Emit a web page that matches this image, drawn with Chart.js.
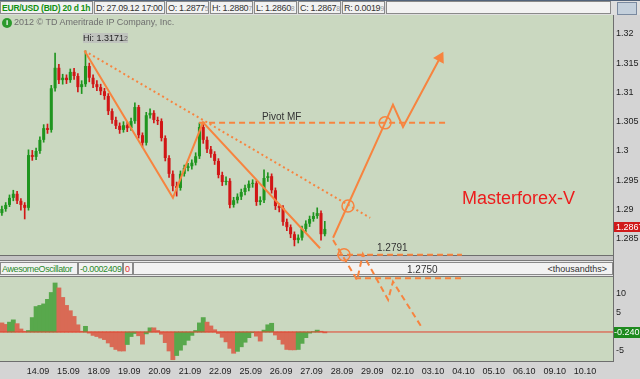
<!DOCTYPE html>
<html lang="en">
<head>
<meta charset="UTF-8">
<title>EUR/USD (BID) 20 d 1h</title>
<script src="https://cdn.jsdelivr.net/npm/chart.js"></script>
<style>
  body { margin: 0; background: #d4d4d4; font-family: "Liberation Sans", Arial, sans-serif; }
  #wrap { position: relative; width: 640px; height: 379px; overflow: hidden; background: #d4d4d4; }
  canvas { position: absolute; left: 0; top: 0; }
  #osc { z-index: 1; }
  #main { z-index: 3; }
  .abs { position: absolute; white-space: nowrap; }
  .box { position: absolute; top: 1px; height: 13px; line-height: 12px; border: 1px solid #8a8a8a;
         background: #f2f2f2; font-size: 9px; color: #333; padding: 0 1px; box-sizing: border-box;
         overflow: hidden; white-space: nowrap; letter-spacing: -0.3px; }
  .box small { font-size: 7px; color: #999; }
  .lbl { position: absolute; z-index: 4; white-space: nowrap; font-size: 10px; color: #333; }
</style>
</head>
<body>
<div id="wrap">
  <!-- header bar -->
  <div class="abs" style="left:0;top:0;width:640px;height:15px;background:#dedede;border-top:1px solid #51627a;box-sizing:border-box;z-index:2"></div>
  <div id="header"></div>
  <div class="abs" style="left:617px;top:2px;width:18px;height:11px;border:1px solid #7a8aa0;background:#c4d0dc;z-index:2"></div>

  <!-- oscillator header band -->
  <div class="abs" style="left:0;top:255px;width:613px;height:22px;background:#e8e8e8;z-index:2"></div>
  <div class="abs" style="left:0;top:255px;width:613px;height:1px;background:#6e6e6e;z-index:2"></div>
  <div class="abs" style="left:0;top:256px;width:613px;height:4px;background:#c4c4c4;z-index:2"></div>
  <div class="abs" style="left:0;top:260px;width:613px;height:1px;background:#7a7a7a;z-index:2"></div>
  <div class="abs" style="left:0;top:276px;width:613px;height:1px;background:#7a7a7a;z-index:2"></div>
  <div class="box" style="left:0;top:262px;width:78px;color:#2b8a2b;z-index:2;letter-spacing:-0.4px">AwesomeOscillator</div>
  <div class="box" style="left:78px;top:262px;width:45px;color:#2b8a2b;z-index:2;letter-spacing:-0.4px">-0.0002409</div>
  <div class="box" style="left:123px;top:262px;width:10px;color:#e03030;z-index:2">0</div>
  <div class="box" style="left:133px;top:262px;width:480px;z-index:2;text-align:right;padding-right:5px;color:#333;letter-spacing:0">&lt;thousandths&gt;</div>

  <!-- frame lines -->
  <div class="abs" style="left:613px;top:15px;width:1px;height:347px;background:#6e6e6e;z-index:4"></div>
  <div class="abs" style="left:0;top:361px;width:614px;height:1px;background:#6e6e6e;z-index:4"></div>

  <canvas id="osc" width="640" height="379"></canvas>
  <canvas id="main" width="640" height="379"></canvas>

  <!-- texts over the plot -->
  <div class="lbl" style="left:2px;top:18px;width:10px;height:10px;border-radius:50%;background:#2c9a2c;color:#fff;font-size:8px;line-height:10px;text-align:center;font-weight:bold">i</div>
  <div class="lbl" style="left:14px;top:17px;font-size:9px;color:#6e6e6e">2012 © TD Ameritrade IP Company, Inc.</div>
  <div class="lbl" style="left:83px;top:33px;width:45px;height:10px;line-height:10px;background:#c0c4be;font-size:9px;color:#222;text-align:center">Hi: 1.3171<small style="font-size:7px;color:#666">2</small></div>
  <div class="lbl" style="left:262px;top:111px">Pivot MF</div>
  <div class="lbl" style="left:377px;top:242px">1.2791</div>
  <div class="lbl" style="left:407px;top:264px">1.2750</div>
  <div class="lbl" style="left:462px;top:188px;font-size:18px;color:#ec1c1c">Masterforex-V</div>
  <div class="lbl" style="left:614px;top:222px;width:26px;height:10px;line-height:10px;background:#d01a1a;color:#fff;font-size:9px;overflow:hidden;padding-left:2px">1.2867</div>
  <div class="lbl" style="left:614px;top:327px;width:26px;height:11px;line-height:11px;background:#1e8a1e;color:#fff;font-size:9px;overflow:hidden">-0.240</div>
</div>

<script>
    // header fields
    const headerFields = [
        ['EUR/USD (BID) 20 d 1h', '', 0, 93],
        ['D: 27.09.12 17:00', '', 94, 71],
        ['O: 1.2877', '5', 166, 43],
        ['H: 1.2880', '7', 210, 43],
        ['L: 1.2860', '8', 254, 43],
        ['C: 1.2867', '8', 298, 43],
        ['R: 0.0019', '9', 342, 43],
        ['', '', 386, 225]
    ];

    // time axis (days from 14.09), 3-hour bars
    const dayLabels = ['14.09', '15.09', '18.09', '19.09', '20.09', '21.09', '22.09', '25.09', '26.09', '27.09',
        '28.09', '29.09', '02.10', '03.10', '04.10', '05.10', '06.10', '09.10', '10.10'];
    const firstBarDay = -1.1875;
    const barStep = 0.125;

    const opens = [1.2894, 1.2901, 1.2908, 1.2920, 1.2927, 1.2915, 1.2908, 1.2903, 1.2993, 1.2990,
        1.3000, 1.3019, 1.3039, 1.3036, 1.3107, 1.3142, 1.3121, 1.3125, 1.3121, 1.3135,
        1.3128, 1.3109, 1.3114, 1.3145, 1.3125, 1.3114, 1.3109, 1.3102, 1.3094, 1.3068,
        1.3053, 1.3043, 1.3036, 1.3044, 1.3039, 1.3051, 1.3075, 1.3027, 1.3014, 1.3061,
        1.3065, 1.3053, 1.3051, 1.3022, 1.2988, 1.2961, 1.2940, 1.2937, 1.2961, 1.2971,
        1.2974, 1.2980, 1.2991, 1.3041, 1.3019, 1.3003, 1.2995, 1.2983, 1.2959, 1.2947,
        1.2949, 1.2908, 1.2916, 1.2922, 1.2930, 1.2937, 1.2944, 1.2945, 1.2913, 1.2916,
        1.2954, 1.2957, 1.2933, 1.2906, 1.2903, 1.2879, 1.2870, 1.2858, 1.2848, 1.2852,
        1.2867, 1.2876, 1.2884, 1.2889, 1.2894, 1.2858];
    const closes = [1.2901, 1.2908, 1.2920, 1.2927, 1.2915, 1.2908, 1.2903, 1.2993, 1.2990, 1.3000,
        1.3019, 1.3039, 1.3036, 1.3107, 1.3142, 1.3121, 1.3125, 1.3121, 1.3135, 1.3128,
        1.3109, 1.3114, 1.3145, 1.3125, 1.3114, 1.3109, 1.3102, 1.3094, 1.3068, 1.3053,
        1.3043, 1.3036, 1.3044, 1.3039, 1.3051, 1.3075, 1.3027, 1.3014, 1.3061, 1.3065,
        1.3053, 1.3051, 1.3022, 1.2988, 1.2961, 1.2940, 1.2937, 1.2961, 1.2971, 1.2974,
        1.2980, 1.2991, 1.3041, 1.3019, 1.3003, 1.2995, 1.2983, 1.2959, 1.2947, 1.2949,
        1.2908, 1.2916, 1.2922, 1.2930, 1.2937, 1.2944, 1.2945, 1.2913, 1.2916, 1.2954,
        1.2957, 1.2933, 1.2906, 1.2903, 1.2879, 1.2870, 1.2858, 1.2848, 1.2852, 1.2867,
        1.2876, 1.2884, 1.2889, 1.2894, 1.2858, 1.2867];
    const highs = [1.2906, 1.2912, 1.2925, 1.2933, 1.2931, 1.2919, 1.2912, 1.3002, 1.3001, 1.3005,
        1.3024, 1.3045, 1.3046, 1.3112, 1.3167, 1.3148, 1.3131, 1.3130, 1.3140, 1.3141,
        1.3132, 1.3120, 1.3171, 1.3150, 1.3130, 1.3120, 1.3114, 1.3107, 1.3098, 1.3072,
        1.3058, 1.3048, 1.3050, 1.3049, 1.3056, 1.3082, 1.3078, 1.3031, 1.3066, 1.3072,
        1.3069, 1.3058, 1.3055, 1.3026, 1.2992, 1.2966, 1.2947, 1.2966, 1.2976, 1.2979,
        1.2985, 1.2997, 1.3048, 1.3045, 1.3024, 1.3008, 1.2999, 1.2987, 1.2964, 1.2956,
        1.2953, 1.2921, 1.2927, 1.2935, 1.2942, 1.2949, 1.2951, 1.2949, 1.2922, 1.2968,
        1.2963, 1.2961, 1.2937, 1.2910, 1.2907, 1.2884, 1.2874, 1.2862, 1.2857, 1.2872,
        1.2881, 1.2889, 1.2895, 1.2903, 1.2898, 1.2880];
    const lows = [1.2890, 1.2897, 1.2905, 1.2915, 1.2910, 1.2899, 1.2884, 1.2899, 1.2984, 1.2985,
        1.2996, 1.3015, 1.3030, 1.3032, 1.3102, 1.3115, 1.3114, 1.3115, 1.3117, 1.3122,
        1.3101, 1.3098, 1.3110, 1.3118, 1.3108, 1.3103, 1.3096, 1.3088, 1.3062, 1.3047,
        1.3038, 1.3030, 1.3032, 1.3033, 1.3035, 1.3047, 1.3022, 1.3007, 1.3010, 1.3056,
        1.3048, 1.3045, 1.3017, 1.2983, 1.2955, 1.2932, 1.2923, 1.2933, 1.2957, 1.2966,
        1.2969, 1.2976, 1.2987, 1.3013, 1.2997, 1.2989, 1.2977, 1.2954, 1.2941, 1.2942,
        1.2903, 1.2904, 1.2911, 1.2917, 1.2925, 1.2932, 1.2938, 1.2907, 1.2908, 1.2912,
        1.2948, 1.2928, 1.2900, 1.2896, 1.2873, 1.2864, 1.2852, 1.2838, 1.2843, 1.2848,
        1.2862, 1.2871, 1.2880, 1.2885, 1.2848, 1.2855];

    // Awesome Oscillator, thousandths
    const aoValues = [2.4, 2.0, 2.6, 3.2, 2.2, 0.8, 0.2, 0.4, 3.8, 6.7,
        7.0, 7.4, 8.6, 10.4, 12.9, 11.6, 9.1, 7.0, 5.6, 4.1,
        1.9, 0.2, 1.5, -0.3, -0.9, -1.2, -1.6, -2.0, -2.9, -3.9,
        -4.6, -5.0, -5.0, -3.3, -1.2, -0.4, -1.0, -3.2, -0.5, 1.1,
        1.1, 0.4, -0.6, -2.8, -5.0, -7.3, -6.2, -4.8, -3.4, -2.2,
        -0.9, 0.4, 2.4, 3.8, 2.6, 1.6, 0.6, -0.4, -1.4, -2.6,
        -4.3, -5.6, -5.1, -3.9, -2.7, -1.5, -0.2, -1.1, -2.4, 0.5,
        1.9, 2.3, -0.8, -2.0, -3.2, -4.6, -4.7, -4.7, -4.6, -3.0,
        -1.5, -0.3, 0.1, 0.5, 0.2, -0.24];

    const priceTicks = [1.285, 1.29, 1.295, 1.3, 1.305, 1.31, 1.315, 1.32];
    const aoTicks = [10, 5, -5];

    // hand drawn forecast, in (day, price)
    const zigzagDays = [1.53, 4.44, 5.43, 9.28];
    const zigzagPrices = [1.3171, 1.2920, 1.3049, 1.2834];
    const trendDays = [1.53, 10.93];
    const trendPrices = [1.3171, 1.2886];
    const pivotDays = [5.30, 13.49];
    const pivotPrice = 1.3048;
    const upDays = [9.71, 11.42, 11.68, 12.01, 13.23];
    const upPrices = [1.2852, 1.3048, 1.3079, 1.3041, 1.3159];
    const downDays = [9.71, 10.50, 10.69, 11.52, 11.68, 12.64];
    const downPrices = [1.2848, 1.2780, 1.2824, 1.2746, 1.2777, 1.2698];
    const levelDays = [[9.84, 13.95], [10.43, 13.99]];
    const levelPrices = [1.2823, 1.2783];
    const circleDays = [10.20, 11.42, 10.07, 11.09];
    const circlePrices = [1.2906, 1.3048, 1.2823, 1.2783];

    const xMin = -1.25, xMax = 18.92;
    const UP = '#1f951f', DOWN = '#d11616', ORANGE = '#f7843f', PLOT_BG = '#cad8c0';
    const AO_UP = '#58a84c', AO_DOWN = '#d96a55';
    const font = {family: 'Liberation Sans', size: 9};

    document.getElementById('header').innerHTML = headerFields.map((f, i) =>
        '<div class="box" style="z-index:2;left:' + f[2] + 'px;width:' + f[3] + 'px;' +
        (i === 0 ? 'color:#119011;font-weight:bold;font-size:8.5px;letter-spacing:-0.2px;' : '') + '">' +
        f[0] + (f[1] ? '<small>' + f[1] + '</small>' : '') + '</div>').join('');

    const barDays = closes.map((c, i) => firstBarDay + i * barStep);
    const candleColor = i => closes[i] >= opens[i] ? UP : DOWN;

    const plotBg = {
        id: 'plotBg',
        beforeDraw(chart) {
            const a = chart.chartArea, c = chart.ctx;
            c.save();
            c.fillStyle = PLOT_BG;
            c.fillRect(a.left, a.top, a.right - a.left, a.bottom - a.top);
            c.restore();
        }
    };

    function path(days, prices, extra) {
        return Object.assign({
            type: 'line',
            data: days.map((d, i) => ({x: d, y: prices[i]})),
            borderColor: ORANGE,
            borderWidth: 2,
            pointRadius: 0,
            fill: false,
            clip: false,
            order: 0
        }, extra || {});
    }

    new Chart('main', {
        type: 'bar',
        data: {
            datasets: [
                path(zigzagDays, zigzagPrices),
                path(trendDays, trendPrices, {borderDash: [2, 3]}),
                path(pivotDays, [pivotPrice, pivotPrice], {borderDash: [6, 4]}),
                path(upDays, upPrices),
                path(downDays, downPrices, {borderDash: [6, 4]}),
                path(levelDays[0], [levelPrices[0], levelPrices[0]], {borderDash: [6, 4]}),
                path(levelDays[1], [levelPrices[1], levelPrices[1]], {borderDash: [6, 4]}),
                path(circleDays, circlePrices, {
                    showLine: false, pointRadius: 6, pointBorderWidth: 1.5,
                    pointBorderColor: ORANGE, pointBackgroundColor: 'rgba(0,0,0,0)'
                }),
                path([upDays[upDays.length - 1], downDays[downDays.length - 1]],
                    [upPrices[upPrices.length - 1], downPrices[downPrices.length - 1]], {
                    showLine: false, pointStyle: 'triangle', pointRadius: 5, pointRotation: [28, 148],
                    pointBorderColor: ORANGE, pointBackgroundColor: ORANGE
                }),
                {
                    data: barDays.map((d, i) => ({x: d, y: [opens[i], closes[i]]})),
                    backgroundColor: ctx => candleColor(ctx.dataIndex),
                    grouped: false, categoryPercentage: 1, barPercentage: 0.8, minBarLength: 1,
                    order: 1
                },
                {
                    data: barDays.map((d, i) => ({x: d, y: [lows[i], highs[i]]})),
                    backgroundColor: ctx => candleColor(ctx.dataIndex),
                    grouped: false, categoryPercentage: 1, barPercentage: 1, maxBarThickness: 1,
                    order: 2
                }
            ]
        },
        options: {
            responsive: false,
            animation: false,
            devicePixelRatio: 1,
            events: [],
            layout: {autoPadding: false, padding: {top: 15, bottom: 124, left: 0, right: 0}},
            plugins: {legend: {display: false}, tooltip: {enabled: false}},
            scales: {
                x: {type: 'linear', min: xMin, max: xMax, offset: false, display: false},
                y: {
                    position: 'right', min: 1.28225, max: 1.32321,
                    grid: {display: false, drawTicks: false}, border: {display: false},
                    afterBuildTicks: s => { s.ticks = priceTicks.map(v => ({value: v})); },
                    afterFit: s => { s.width = 27; },
                    ticks: {padding: 3, color: '#222', font: font, callback: v => String(+v.toFixed(3))}
                }
            }
        },
        plugins: [plotBg]
    });

    new Chart('osc', {
        type: 'bar',
        data: {
            datasets: [
                {
                    type: 'line', data: [{x: xMin, y: 0}, {x: xMax, y: 0}],
                    borderColor: '#e2412d', borderWidth: 1, pointRadius: 0, order: 0
                },
                {
                    data: barDays.map((d, i) => ({x: d, y: aoValues[i]})),
                    backgroundColor: ctx => {
                        const i = ctx.dataIndex;
                        return i > 0 && aoValues[i] > aoValues[i - 1] ? AO_UP : AO_DOWN;
                    },
                    barThickness: 4.2,
                    order: 1
                }
            ]
        },
        options: {
            responsive: false,
            animation: false,
            devicePixelRatio: 1,
            events: [],
            layout: {autoPadding: false, padding: {top: 277, bottom: 0, left: 0, right: 0}},
            plugins: {legend: {display: false}, tooltip: {enabled: false}},
            scales: {
                x: {
                    type: 'linear', min: xMin, max: xMax, offset: false,
                    grid: {display: false, drawTicks: false}, border: {display: false},
                    afterBuildTicks: s => { s.ticks = dayLabels.map((l, i) => ({value: i})); },
                    afterFit: s => { s.height = 18; },
                    ticks: {padding: 5, maxRotation: 0, autoSkip: false, color: '#222', font: font,
                        callback: v => dayLabels[v]}
                },
                y: {
                    position: 'right', min: -7.63, max: 14.47,
                    grid: {display: false, drawTicks: false}, border: {display: false},
                    afterBuildTicks: s => { s.ticks = aoTicks.map(v => ({value: v})); },
                    afterFit: s => { s.width = 27; },
                    ticks: {padding: 3, color: '#222', font: font}
                }
            }
        },
        plugins: [plotBg]
    });
</script>
</body>
</html>
